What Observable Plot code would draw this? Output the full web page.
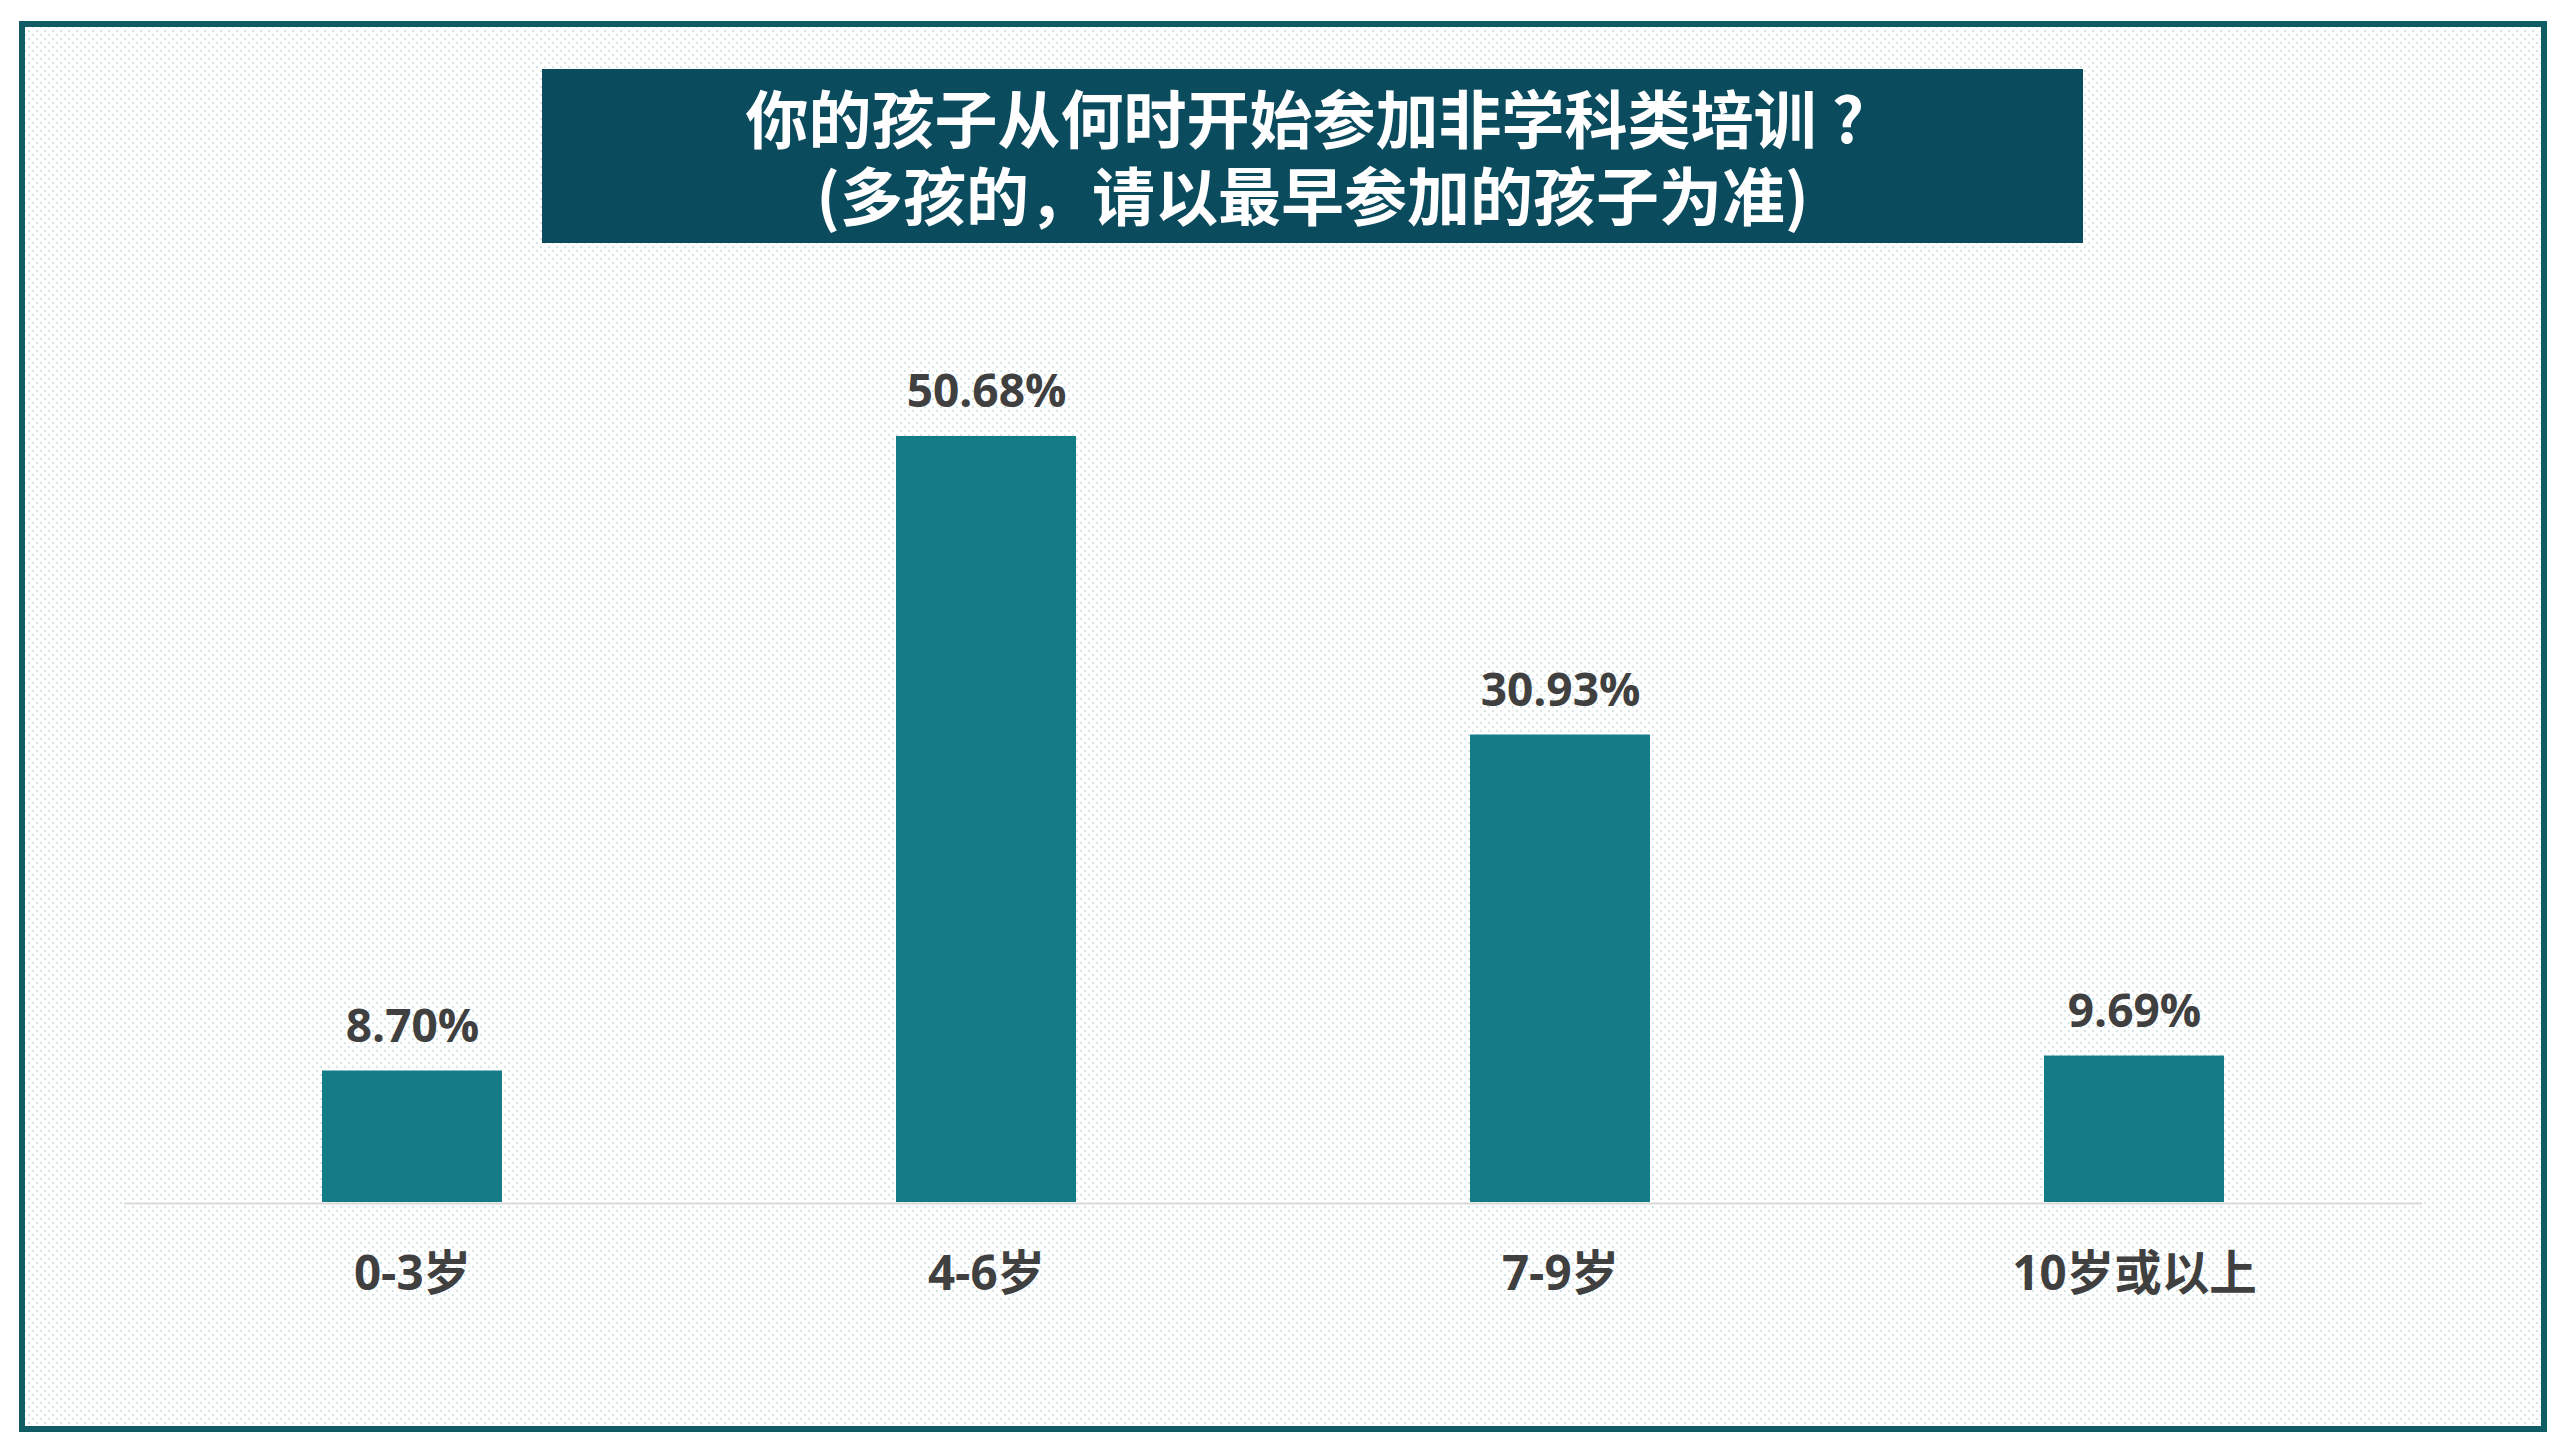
<!DOCTYPE html>
<html>
<head>
<meta charset="utf-8">
<script src="https://cdn.jsdelivr.net/npm/d3@7"></script>
<script src="https://cdn.jsdelivr.net/npm/@observablehq/plot@0.6"></script>
<style>
  html, body { margin: 0; padding: 0; background: #ffffff; width: 2560px; height: 1440px; overflow: hidden; }
  #frame {
    position: absolute; left: 19px; top: 21px; width: 2516px; height: 1399px;
    border: 6px solid #0f5c64;
    background-color: #ffffff;
    background-image: radial-gradient(circle at center, #d3e6e4 0.9px, transparent 1.2px),
                      radial-gradient(circle at center, #d3e6e4 0.9px, transparent 1.2px);
    background-size: 8px 8px, 8px 8px;
    background-position: 0 0, 4px 4px;
  }
  #title {
    position: absolute; left: 542px; top: 69px; width: 1541px; height: 174px;
    background: #0b4b5e; color: #ffffff; text-align: center; box-sizing: border-box;
    padding-top: 8px;
    font-family: "Noto Sans CJK SC", "Open Sans", sans-serif; font-weight: 700;
    font-size: 63px; line-height: 77px;
  }
  #title .line { display: block; white-space: nowrap; }
  #title .cell { display: inline-block; width: 1em; text-align: center; }
  #chart { position: absolute; left: 0; top: 280px; }
</style>
</head>
<body>
<div id="frame"></div>
<div id="title"><span class="line">你的孩子从何时开始参加非学科类培训<span class="cell">?</span></span><span class="line">(多孩的，请以最早参加的孩子为准)</span></div>
<div id="chart"></div>
<script>
const categories = ["0-3岁", "4-6岁", "7-9岁", "10岁或以上"];
const values = [8.70, 50.68, 30.93, 9.69];
const labels = ["8.70%", "50.68%", "30.93%", "9.69%"];

const data = categories.map((c, i) => ({category: c, value: values[i], label: labels[i]}));

const font = '"Open Sans", "Noto Sans CJK SC", sans-serif';

const chart = Plot.plot({
  width: 2560,
  height: 1040,
  marginLeft: 124,
  marginRight: 138,
  marginTop: 0,
  marginBottom: 118,
  style: {background: "transparent", fontFamily: font, overflow: "visible"},
  x: {domain: categories, paddingInner: 0.686, paddingOuter: 0.343, label: null},
  y: {domain: [0, 61], axis: null},
  marks: [
    Plot.barY(data, {x: "category", y: "value", fill: "#137c87"}),
    Plot.ruleY([0], {stroke: "#d9d9d9", strokeWidth: 2, dy: 1}),
    Plot.text(data, {x: "category", y: "value", text: "label", lineAnchor: "bottom", dy: -29,
      fontSize: 46, fontWeight: "bold", fill: "#404040", fontFamily: font}),
    Plot.axisX({tickSize: 0, tickPadding: 54, fontSize: 47.5, fontWeight: "bold", fill: "#404040",
      label: null, fontFamily: font})
  ]
});
document.getElementById("chart").appendChild(chart);
</script>
</body>
</html>
